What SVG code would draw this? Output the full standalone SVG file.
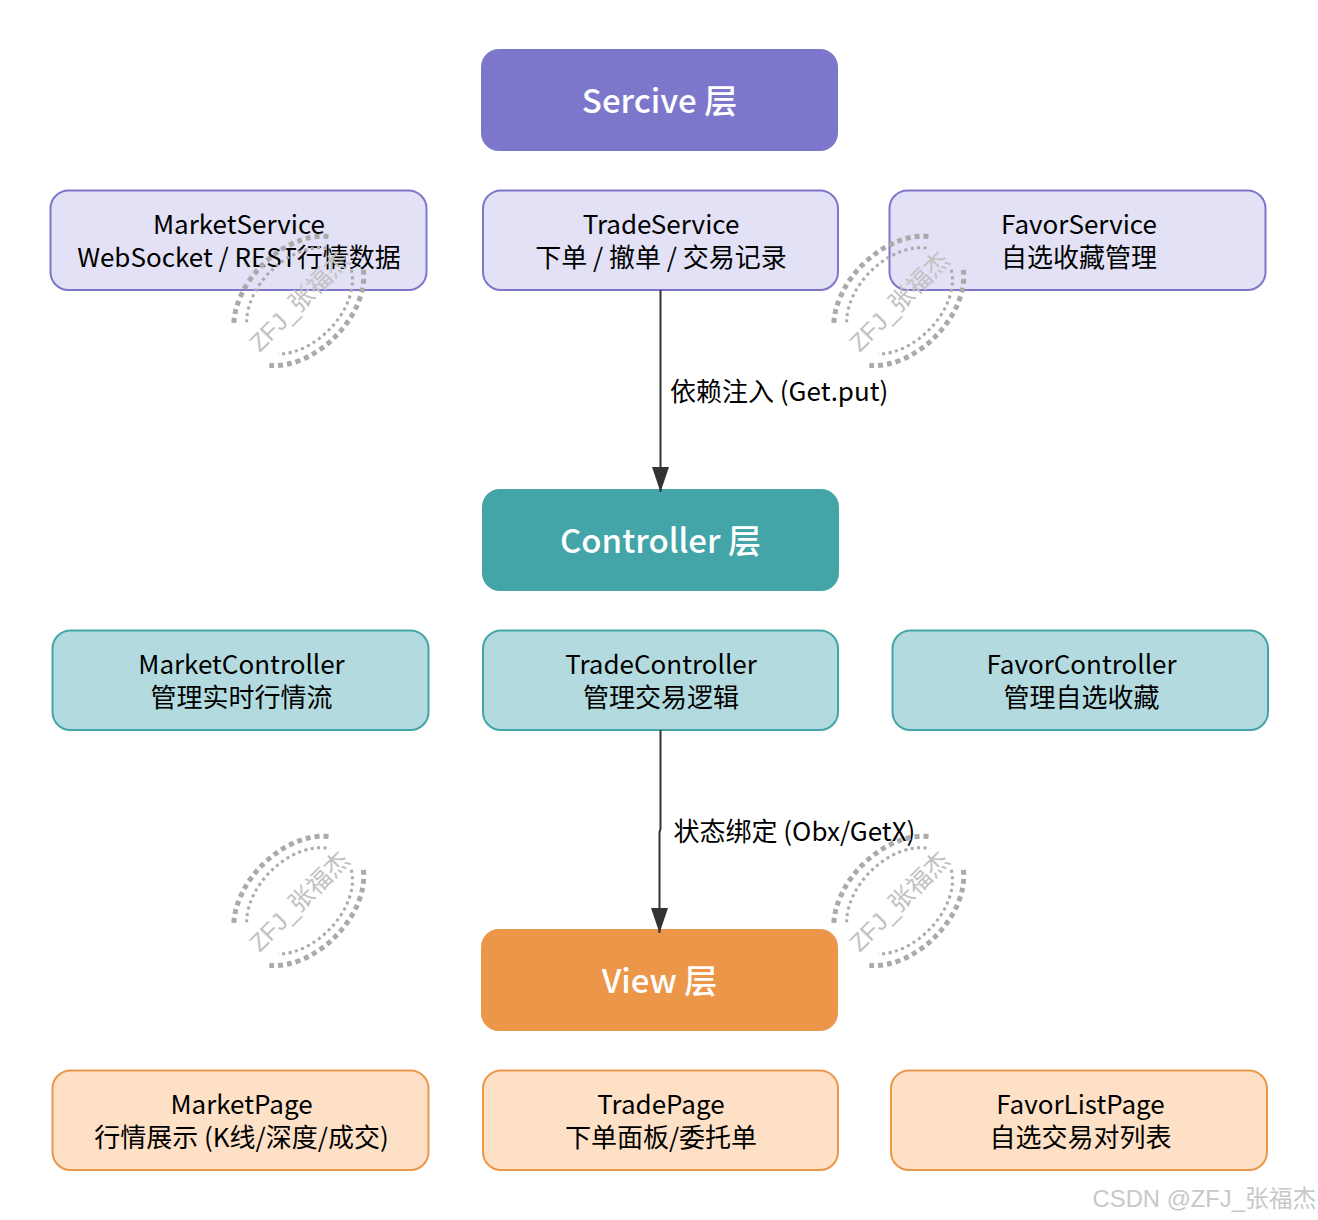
<svg xmlns="http://www.w3.org/2000/svg" width="1318" height="1220" viewBox="0 0 1318 1220">
<style>
text{font-family:"Noto Sans CJK SC","Noto Sans",sans-serif;text-anchor:middle}
.t{font-size:26px;fill:#000}
.h{font-size:33px;fill:#fff;font-weight:500}
.l{font-size:26px;fill:#000;text-anchor:start}
.s{stroke-width:2}
.pu{fill:#e2e1f5;stroke:#7d77cc}
.te{fill:#b3dbdf;stroke:#43a5a8}
.or{fill:#fee0c6;stroke:#ec964a}
.c{fill:none;stroke:#333;stroke-width:2}
.wo{fill:none;stroke:#aaa;stroke-width:5;stroke-dasharray:5 4}
.wi{fill:none;stroke:#aaa;stroke-width:3;stroke-dasharray:3 3.500}
.wt{font-size:24.500px;fill:#c2c2c2;font-family:"Liberation Sans","Noto Sans CJK SC",sans-serif}
</style>
<defs>
<marker id="a" markerUnits="userSpaceOnUse" markerWidth="26" markerHeight="18" refX="25" refY="8.500" orient="auto" viewBox="0 0 26 17"><path d="M0 0L25 8.500L0 17Z" fill="#333"/></marker>
<g id="wm">
<g transform="rotate(-45)">
<path class="wo" d="M-61.500-30.600A76 51 0 0 1 67.500-23.500"/>
<path class="wo" d="M67.500 23.500A76 51 0 0 1-66.500 24.500"/>
<path class="wi" d="M-52-22A63 42 0 0 1 59-15"/>
<path class="wi" d="M59 15A63 42 0 0 1-52 23"/>
<text class="wt" x="0" y="9">ZFJ_张福杰</text>
</g>
</g>
</defs>
<g id="service"><rect x="481" y="49" width="357" height="102" rx="18" fill="#7d77cc"/><text class="h" x="659.500" y="113">Sercive 层</text></g>
<g id="marketservice"><rect class="pu s" x="50.500" y="190.500" width="376" height="99.500" rx="18"/><text class="t" x="239" y="234">MarketService</text><text class="t" x="239" y="267">WebSocket / REST行情数据</text></g>
<g id="tradeservice"><rect class="pu s" x="483" y="190.500" width="355" height="99.500" rx="18"/><text class="t" x="661" y="234">TradeService</text><text class="t" x="661" y="267">下单 / 撤单 / 交易记录</text></g>
<g id="favorservice"><rect class="pu s" x="889.500" y="190.500" width="376" height="99.500" rx="18"/><text class="t" x="1079" y="234">FavorService</text><text class="t" x="1079" y="267">自选收藏管理</text></g>
<g id="controller"><rect x="482" y="489" width="357" height="102" rx="18" fill="#43a5a8"/><text class="h" x="660.500" y="553">Controller 层</text></g>
<g id="marketcontroller"><rect class="te s" x="52.500" y="630.500" width="376" height="99.500" rx="18"/><text class="t" x="241.500" y="674">MarketController</text><text class="t" x="241.500" y="707">管理实时行情流</text></g>
<g id="tradecontroller"><rect class="te s" x="483" y="630.500" width="355" height="99.500" rx="18"/><text class="t" x="661" y="674">TradeController</text><text class="t" x="661" y="707">管理交易逻辑</text></g>
<g id="favorcontroller"><rect class="te s" x="892.500" y="630.500" width="375.500" height="99.500" rx="18"/><text class="t" x="1081.500" y="674">FavorController</text><text class="t" x="1081.500" y="707">管理自选收藏</text></g>
<g id="view"><rect x="481" y="929" width="357" height="102" rx="18" fill="#ec964a"/><text class="h" x="659.500" y="993">View 层</text></g>
<g id="marketpage"><rect class="or s" x="52.500" y="1070.500" width="376" height="99.500" rx="18"/><text class="t" x="241.500" y="1114">MarketPage</text><text class="t" x="241.500" y="1147">行情展示 (K线/深度/成交)</text></g>
<g id="tradepage"><rect class="or s" x="483" y="1070.500" width="355" height="99.500" rx="18"/><text class="t" x="661" y="1114">TradePage</text><text class="t" x="661" y="1147">下单面板/委托单</text></g>
<g id="favorlistpage"><rect class="or s" x="891" y="1070.500" width="376" height="99.500" rx="18"/><text class="t" x="1080.500" y="1114">FavorListPage</text><text class="t" x="1080.500" y="1147">自选交易对列表</text></g>
<g id="connectors">
<path class="c" d="M660.500 290V492" marker-end="url(#a)"/>
<path class="c" d="M660.500 730V829L659.500 832V933" marker-end="url(#a)"/>
<text class="l" x="670" y="401">依赖注入 (Get.put)</text>
<text class="l" x="673.500" y="841">状态绑定 (Obx/GetX)</text>
</g>
<use href="#wm" x="299" y="301"/><use href="#wm" x="899" y="301"/><use href="#wm" x="299" y="901"/><use href="#wm" x="899" y="901"/>
<text x="1204.500" y="1207" style="font-family:'Liberation Sans','Noto Sans CJK SC',sans-serif;font-size:23.800px;fill:#c8c8c8">CSDN @ZFJ_张福杰</text>
</svg>
